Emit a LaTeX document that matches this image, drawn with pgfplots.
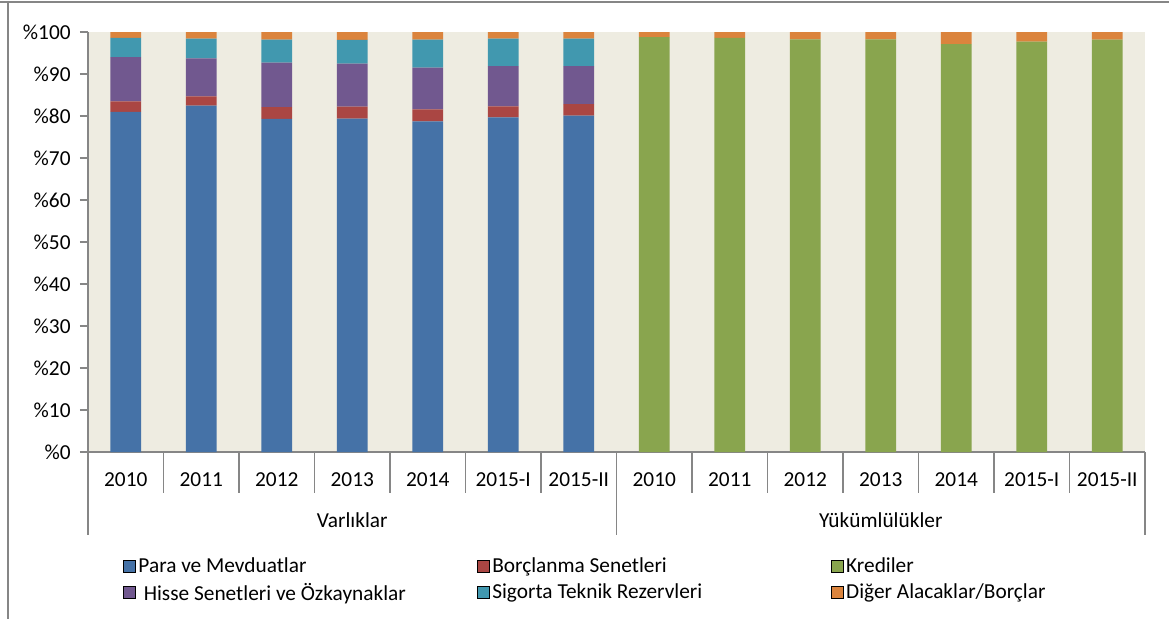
\documentclass[border=0pt]{standalone}
\usepackage{fontspec}
\setmainfont{Carlito}
\usepackage{pgfplots}
\pgfplotsset{compat=1.18}
\usepackage{pgfplotstable}

\definecolor{cPara}{HTML}{4572A7}
\definecolor{cBorc}{HTML}{AA4643}
\definecolor{cHisse}{HTML}{71588F}
\definecolor{cSig}{HTML}{4198AF}
\definecolor{cKredi}{HTML}{89A54E}
\definecolor{cDiger}{HTML}{DB843D}
\definecolor{cBack}{HTML}{EEECE1}
\definecolor{cAxis}{HTML}{868686}

% shares in percent, 0-6 Varliklar, 7-13 Yukumlulukler
\pgfplotstableread{
x  para  borc  hisse  sig   kredi  diger
0  81.0  2.5   10.5   4.6   0      1.4
1  82.5  2.2   9.0    4.7   0      1.6
2  79.3  2.8   10.6   5.5   0      1.8
3  79.4  2.85  10.2   5.65  0      1.9
4  78.7  2.9   9.9    6.7   0      1.8
5  79.7  2.6   9.6    6.5   0      1.6
6  80.1  2.7   9.1    6.5   0      1.6
7  0     0     0      0     98.8   1.2
8  0     0     0      0     98.6   1.4
9  0     0     0      0     98.25  1.75
10 0     0     0      0     98.25  1.75
11 0     0     0      0     97.1   2.9
12 0     0     0      0     97.7   2.3
13 0     0     0      0     98.2   1.8
}\shares

\pgfplotsset{sqleg/.style={legend image code/.code={\fill[##1] (0pt,-4.5pt) rectangle (9pt,4.5pt);}}}

\begin{document}
\begin{tikzpicture}[font=\fontsize{16}{19}\selectfont]
\path[use as bounding box] (-66pt,-125.25pt) rectangle (810.75pt,339pt);
\draw[line width=1.5pt, cAxis] (-66pt,337.5pt) -- (810.75pt,337.5pt);
\draw[line width=1.5pt, cAxis] (-60pt,338.25pt) -- (-60pt,-125.25pt);
\begin{axis}[
  at={(0,0)}, anchor=south west,
  scale only axis, width=792.75pt, height=315pt,
  ybar stacked, bar width=23pt,
  xmin=-0.5, xmax=13.5, ymin=0, ymax=100,
  axis x line*=bottom, axis y line*=left,
  axis line style={cAxis, line width=1pt},
  xtick=\empty,
  ytick={0,10,...,100},
  yticklabel={\%\pgfmathprintnumber{\tick}},
  yticklabel style={xshift=-3.5pt},
  /pgf/number format/assume math mode=true,
  tick style={cAxis, line width=1pt},
  tick align=outside, major tick length=6pt,
  tick label style={font=\fontsize{16}{19}\selectfont},
  axis background/.style={fill=cBack},
  clip=false,
  legend columns=3,
  legend cell align=left,
  legend style={draw=none, fill=none, inner sep=0pt,
    at={(0.0331,-0.305)}, anchor=west, row sep=2pt,
    font=\fontsize{16}{19}\selectfont},
]
\addplot[fill=cPara, draw=none, forget plot] table[x=x, y=para] {\shares};
\addplot[fill=cBorc, draw=none, forget plot] table[x=x, y=borc] {\shares};
\addplot[fill=cHisse, draw=none, forget plot] table[x=x, y=hisse] {\shares};
\addplot[fill=cSig, draw=none, forget plot] table[x=x, y=sig] {\shares};
\addplot[fill=cKredi, draw=none, forget plot] table[x=x, y=kredi] {\shares};
\addplot[fill=cDiger, draw=none, forget plot] table[x=x, y=diger] {\shares};

\addlegendimage{sqleg, fill=cPara}
\addlegendentry{\makebox[252pt][l]{Para ve Mevduatlar}}
\addlegendimage{sqleg, fill=cBorc}
\addlegendentry{\makebox[252pt][l]{Borçlanma Senetleri}}
\addlegendimage{sqleg, fill=cKredi}
\addlegendentry{\makebox[252pt][l]{Krediler}}
\addlegendimage{sqleg, fill=cHisse}
\addlegendentry{\makebox[252pt][l]{\hspace{4pt}Hisse Senetleri ve Özkaynaklar}}
\addlegendimage{sqleg, fill=cSig}
\addlegendentry{\makebox[252pt][l]{Sigorta Teknik Rezervleri}}
\addlegendimage{sqleg, fill=cDiger}
\addlegendentry{\makebox[252pt][l]{Diğer Alacaklar/Borçlar}}

% category separators
\pgfplotsinvokeforeach{0.5,1.5,2.5,3.5,4.5,5.5,7.5,8.5,9.5,10.5,11.5,12.5}{
  \draw[cAxis, line width=1pt] (axis cs:#1,0) -- ([yshift=-31pt]axis cs:#1,0);
}
\pgfplotsinvokeforeach{-0.5,6.5,13.5}{
  \draw[cAxis, line width=1pt] (axis cs:#1,0) -- ([yshift=-62pt]axis cs:#1,0);
}
% category names
\node at ([yshift=-21pt]axis cs:0,0) {2010};
\node at ([yshift=-21pt]axis cs:1,0) {2011};
\node at ([yshift=-21pt]axis cs:2,0) {2012};
\node at ([yshift=-21pt]axis cs:3,0) {2013};
\node at ([yshift=-21pt]axis cs:4,0) {2014};
\node at ([yshift=-21pt]axis cs:5,0) {2015-I};
\node at ([yshift=-21pt]axis cs:6,0) {2015-II};
\node at ([yshift=-21pt]axis cs:7,0) {2010};
\node at ([yshift=-21pt]axis cs:8,0) {2011};
\node at ([yshift=-21pt]axis cs:9,0) {2012};
\node at ([yshift=-21pt]axis cs:10,0) {2013};
\node at ([yshift=-21pt]axis cs:11,0) {2014};
\node at ([yshift=-21pt]axis cs:12,0) {2015-I};
\node at ([yshift=-21pt]axis cs:13,0) {2015-II};
\node at ([yshift=-51pt]axis cs:3,0) {Varlıklar};
\node at ([yshift=-51pt]axis cs:10,0) {Yükümlülükler};
\end{axis}
\end{tikzpicture}
\end{document}
